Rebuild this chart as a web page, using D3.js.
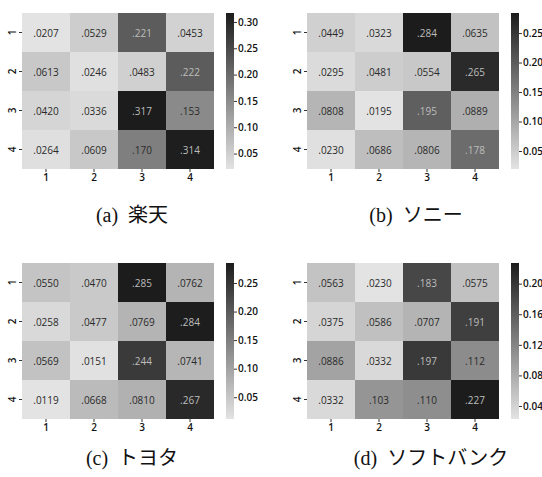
<!doctype html>
<html>
<head>
<meta charset="UTF-8">
<title>heatmaps</title>
<script src="https://d3js.org/d3.v7.min.js"></script>
<style>
  body { margin: 0; background: #fff; }
  .ann { font-family: "Open Sans", "Noto Sans", sans-serif; font-size: 10px; }
  .tick text { font-family: "Open Sans", "Noto Sans", sans-serif; font-size: 10px; fill: #111; font-weight: 600; }
  .caption { font-family: "Liberation Serif", "Noto Sans CJK JP", serif; font-size: 20px; fill: #111; }
</style>
</head>
<body>
<svg id="chart" width="542" height="477"></svg>
<script>
// row / column labels
var labels = ["1", "2", "3", "4"];

// matrices (row by row)
var rakuten = [
  [0.0207, 0.0529, 0.221, 0.0453],
  [0.0613, 0.0246, 0.0483, 0.222],
  [0.0420, 0.0336, 0.317, 0.153],
  [0.0264, 0.0609, 0.170, 0.314]
];
var sony = [
  [0.0449, 0.0323, 0.284, 0.0635],
  [0.0295, 0.0481, 0.0554, 0.265],
  [0.0808, 0.0195, 0.195, 0.0889],
  [0.0230, 0.0686, 0.0806, 0.178]
];
var toyota = [
  [0.0550, 0.0470, 0.285, 0.0762],
  [0.0258, 0.0477, 0.0769, 0.284],
  [0.0569, 0.0151, 0.244, 0.0741],
  [0.0119, 0.0668, 0.0810, 0.267]
];
var softbank = [
  [0.0563, 0.0230, 0.183, 0.0575],
  [0.0375, 0.0586, 0.0707, 0.191],
  [0.0886, 0.0332, 0.197, 0.112],
  [0.0332, 0.103, 0.110, 0.227]
];

var captions = ["(a)\u00a0 楽天", "(b)\u00a0 ソニー", "(c)\u00a0 トヨタ", "(d)\u00a0 ソフトバンク"];

// colorbar ticks
var ticksA = [0.05, 0.10, 0.15, 0.20, 0.25, 0.30];
var ticksB = [0.05, 0.10, 0.15, 0.20, 0.25];
var ticksC = [0.05, 0.10, 0.15, 0.20, 0.25];
var ticksD = [0.04, 0.08, 0.12, 0.16, 0.20];

var panels = [
  { m: rakuten, cap: captions[0], ticks: ticksA, ox: 0, oy: 0, capx: 132, capy: 222 },
  { m: sony, cap: captions[1], ticks: ticksB, ox: 285, oy: 0, capx: 131, capy: 222 },
  { m: toyota, cap: captions[2], ticks: ticksC, ox: 0, oy: 250, capx: 132, capy: 215 },
  { m: softbank, cap: captions[3], ticks: ticksD, ox: 285, oy: 250, capx: 146, capy: 215 }
];

var svg = d3.select("#chart");
var W = 192, H = 156;     // heatmap size
var mLeft = 22, mTop = 13;

var lightCol = "#e3e3e3", darkCol = "#1c1c1c";

var fmt = function (v) {
  return d3.format(".3r")(v).replace(/^0/, "");
};

panels.forEach(function (p, pi) {
  var g = svg.append("g").attr("transform", "translate(" + p.ox + "," + p.oy + ")");
  var all = d3.merge(p.m);
  var mn = d3.min(all), mx = d3.max(all);
  var color = d3.scaleLinear().domain([mn, mx]).range([lightCol, darkCol]);

  var x = d3.scaleBand().domain(labels).range([mLeft, mLeft + W]);
  var y = d3.scaleBand().domain(labels).range([mTop, mTop + H]);

  var cells = [];
  p.m.forEach(function (row, i) {
    row.forEach(function (v, j) {
      cells.push({ r: labels[i], c: labels[j], v: v, t: (v - mn) / (mx - mn) });
    });
  });

  g.selectAll(".cell").data(cells).enter().append("rect")
    .attr("class", "cell")
    .attr("x", function (d) { return x(d.c); })
    .attr("y", function (d) { return y(d.r); })
    .attr("width", x.bandwidth())
    .attr("height", y.bandwidth())
    .attr("fill", function (d) { return color(d.v); });

  g.selectAll(".ann").data(cells).enter().append("text")
    .attr("class", "ann")
    .attr("x", function (d) { return x(d.c) + x.bandwidth() / 2; })
    .attr("y", function (d) { return y(d.r) + y.bandwidth() / 2; })
    .attr("text-anchor", "middle")
    .attr("dominant-baseline", "central")
    .attr("fill", function (d) { return d.t > 0.55 ? "#bdbdbd" : "#2a2a2a"; })
    .text(function (d) { return fmt(d.v); });

  // axes
  var xa = g.append("g").attr("transform", "translate(0," + (mTop + H) + ")")
    .call(d3.axisBottom(x).tickSize(3).tickPadding(2));
  var ya = g.append("g").attr("transform", "translate(" + mLeft + ",0)")
    .call(d3.axisLeft(y).tickSize(3).tickPadding(4));
  ya.selectAll("text")
    .attr("x", 0).attr("y", 0).attr("dy", null)
    .attr("text-anchor", "middle")
    .attr("dominant-baseline", "central")
    .attr("transform", "translate(-10,0) rotate(-90)");
  [xa, ya].forEach(function (a) {
    a.select(".domain").remove();
    a.selectAll("line").attr("stroke", "#333");
  });

  // colorbar
  var cbx = 226, cbw = 8;
  var cy = d3.scaleLinear().domain([mn, mx]).range([mTop + H, mTop]);
  var gid = "grad" + pi;
  var grad = svg.append("defs").append("linearGradient").attr("id", gid)
    .attr("x1", 0).attr("y1", 1).attr("x2", 0).attr("y2", 0);
  grad.append("stop").attr("offset", 0).attr("stop-color", lightCol);
  grad.append("stop").attr("offset", 1).attr("stop-color", darkCol);
  g.append("rect").attr("x", cbx).attr("y", mTop).attr("width", cbw).attr("height", H)
    .attr("fill", "url(#" + gid + ")");
  var ca = g.append("g").attr("transform", "translate(" + (cbx + cbw) + ",0)")
    .call(d3.axisRight(cy).tickValues(p.ticks).tickFormat(d3.format(".2f")).tickSize(3).tickPadding(1));
  ca.select(".domain").remove();
  ca.selectAll("line").attr("stroke", "#333");

  g.append("text").attr("class", "caption")
    .attr("x", p.capx).attr("y", p.capy)
    .attr("text-anchor", "middle")
    .text(p.cap);
});
</script>
</body>
</html>
